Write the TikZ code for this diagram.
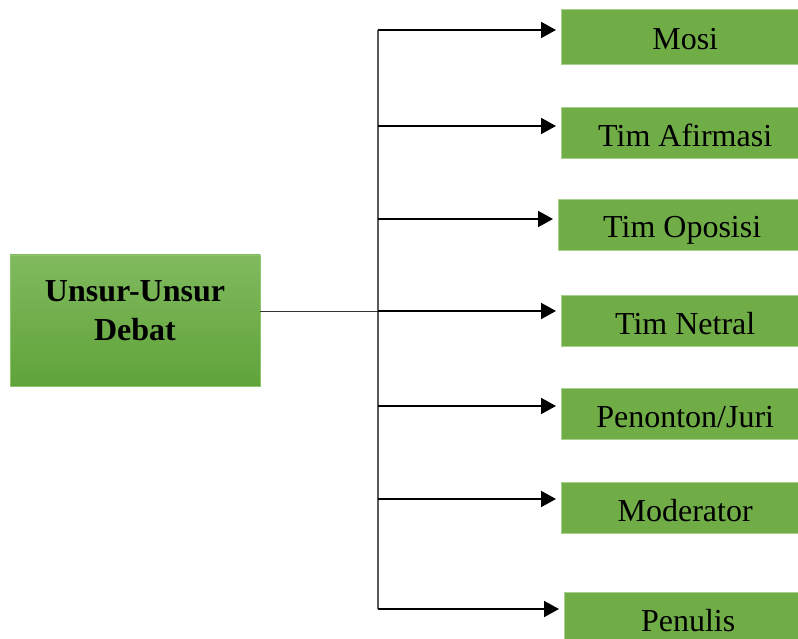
\documentclass[tikz,border=0pt]{standalone}
\usepackage{fontspec}
\setmainfont{Liberation Serif}
\usepackage{xcolor}
\usetikzlibrary{arrows.meta,positioning,calc}

\definecolor{boxgreen}{HTML}{70AD47}
\definecolor{boxline}{HTML}{A9D18E}
\definecolor{maintop}{HTML}{80BA5E}
\definecolor{mainbot}{HTML}{60A33A}
\definecolor{mainline}{HTML}{8DC46C}

\begin{document}
\begin{tikzpicture}[
    x=1pt, y=1pt,
    font=\fontsize{32}{39}\selectfont,
    main/.style={rectangle, draw=mainline, top color=maintop, bottom color=mainbot, minimum width=250pt, minimum height=131pt, inner sep=0pt, font=\fontsize{32}{39}\selectfont\bfseries},
    box/.style={rectangle, draw=boxline, fill=boxgreen, minimum width=248pt, minimum height=51pt, anchor=west, inner sep=0pt, text height=27pt, text depth=0pt},
    arrow/.style={-{Triangle[length=15pt,width=16pt]}, line width=2pt, shorten >=5pt},
    trunk/.style={line width=2pt, draw=black!65},
    link/.style={line width=1pt, draw=black!80}
]
\useasboundingbox (0,0) rectangle (798,-639);

\node[main] (unsur) at (135,-320.5) {\raisebox{1.5pt}[0pt][0pt]{\begin{tabular}{@{}c@{}}Unsur-Unsur\\Debat\end{tabular}}};

\node[box, minimum height=55pt] (mosi) at (561,-36.5) {Mosi};
\node[box] (afirmasi) at (561,-133) {Tim Afirmasi};
\node[box] (oposisi) at (558,-224.5) {Tim Oposisi};
\node[box] (netral) at (561,-320.5) {Tim Netral};
\node[box] (juri) at (561,-413.5) {Penonton/Juri};
\node[box] (moderator) at (561,-507.5) {Moderator};
\node[box] (penulis) at (564,-617.5) {Penulis};

% titik cabang pada garis tegak
\coordinate (t1) at (378,-30);
\coordinate (t2) at (378,-126);
\coordinate (t3) at (378,-219);
\coordinate (t4) at (378,-311);
\coordinate (t5) at (378,-406);
\coordinate (t6) at (378,-499);
\coordinate (t7) at (378,-609);

\draw[trunk] (t1) -- (t7);
\draw[link] (unsur.east |- t4) -- (t4);

\draw[arrow] (t1) -- (t1 -| mosi.west);
\draw[arrow] (t2) -- (t2 -| afirmasi.west);
\draw[arrow] (t3) -- (t3 -| oposisi.west);
\draw[arrow] (t4) -- (t4 -| netral.west);
\draw[arrow] (t5) -- (t5 -| juri.west);
\draw[arrow] (t6) -- (t6 -| moderator.west);
\draw[arrow] (t7) -- (t7 -| penulis.west);

\end{tikzpicture}
\end{document}
